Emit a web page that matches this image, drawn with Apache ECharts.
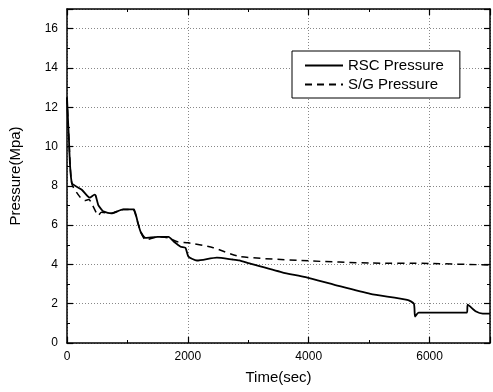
<!DOCTYPE html>
<html><head><meta charset="utf-8">
<script src="https://cdn.jsdelivr.net/npm/echarts@6/dist/echarts.min.js"></script>
<style>html,body{margin:0;padding:0;background:#fff}#c{width:493px;height:392px}</style>
</head><body><div id="c"></div>
<script>
const seriesNames = ['RSC Pressure', 'S/G Pressure'];
const rscTime = [0, 30, 80, 245, 375, 457, 475, 520, 570, 600, 735, 930, 1010, 1090, 1110, 1170, 1220, 1300, 1500, 1680, 1770, 1880, 1960, 2010, 2150, 2480, 2740, 2850, 3020, 3560, 3950, 4440, 5020, 5630, 5740, 5760, 5820, 6620, 6630, 6770, 6880, 7000];
const rscPressure = [12.5, 10.5, 8.15, 7.8, 7.4, 7.55, 7.5, 7.0, 6.8, 6.7, 6.6, 6.8, 6.8, 6.8, 6.8, 6.15, 5.65, 5.35, 5.4, 5.4, 5.15, 4.9, 4.85, 4.4, 4.2, 4.35, 4.25, 4.2, 4.05, 3.6, 3.35, 2.95, 2.5, 2.2, 2.0, 1.35, 1.55, 1.55, 1.95, 1.6, 1.5, 1.5];
const sgTime = [0, 30, 80, 210, 295, 360, 520, 570, 735, 930, 1090, 1170, 1220, 1300, 1500, 1680, 1830, 2010, 2420, 2860, 4000, 5020, 6000, 7000];
const sgPressure = [12.5, 10.5, 8.1, 7.45, 7.25, 7.3, 6.5, 6.65, 6.6, 6.8, 6.8, 6.15, 5.65, 5.25, 5.4, 5.35, 5.15, 5.1, 4.85, 4.4, 4.18, 4.07, 4.05, 3.97];
const xTicks = [0, 2000, 4000, 6000];
const yTicks = [0, 2, 4, 6, 8, 10, 12, 14, 16];

const toPairs = (t, p) => t.map((v, i) => [v, p[i]]);
const font = 'Liberation Sans, Arial, sans-serif';
const tickStyle = {show: true, inside: true, length: 6, lineStyle: {color: '#000', width: 1.2}};
const minorStyle = {show: true, splitNumber: 2, length: 3, lineStyle: {color: '#000', width: 1}};
const gridLine = {show: true, lineStyle: {color: '#888', type: [1, 2], width: 1}};
const axisLineStyle = {show: true, onZero: false, lineStyle: {color: '#000', width: 1.5}};

const chart = echarts.init(document.getElementById('c'), null, {renderer: 'canvas'});
chart.setOption({
  animation: false,
  backgroundColor: '#fff',
  grid: {left: 65, right: 0, top: 9, bottom: 49, containLabel: false},
  legend: {
    show: true, left: 292, top: 51, orient: 'vertical',
    padding: [7, 16, 6, 12], itemGap: 4, itemWidth: 38, itemHeight: 10,
    borderColor: '#000', borderWidth: 1, borderRadius: 0,
    backgroundColor: '#fff',
    itemStyle: {opacity: 0},
    textStyle: {fontFamily: font, fontSize: 15, color: '#000'},
    data: seriesNames
  },
  xAxis: [{
    type: 'value', min: 0, max: 7000, interval: 2000,
    name: 'Time(sec)', nameLocation: 'middle', nameGap: 27,
    nameTextStyle: {fontFamily: font, fontSize: 15, color: '#000'},
    axisLine: axisLineStyle, axisTick: tickStyle, minorTick: minorStyle,
    axisLabel: {fontFamily: font, fontSize: 12, color: '#000', margin: 8,
      formatter: v => xTicks.includes(v) ? String(v) : ''},
    splitLine: gridLine
  }, {
    type: 'value', min: 0, max: 7000, interval: 2000, position: 'top',
    axisLine: axisLineStyle, axisTick: tickStyle, minorTick: minorStyle,
    axisLabel: {show: false}, splitLine: {show: false}
  }],
  yAxis: [{
    type: 'value', min: 0, max: 17, interval: 2,
    name: 'Pressure(Mpa)', nameLocation: 'middle', nameGap: 44,
    nameTextStyle: {fontFamily: font, fontSize: 15, color: '#000'},
    axisLine: axisLineStyle, axisTick: tickStyle, minorTick: minorStyle,
    axisLabel: {fontFamily: font, fontSize: 12, color: '#000', margin: 9,
      formatter: v => yTicks.includes(v) ? String(v) : ''},
    splitLine: gridLine
  }, {
    type: 'value', min: 0, max: 17, interval: 2, position: 'right',
    axisLine: axisLineStyle, axisTick: tickStyle, minorTick: minorStyle,
    axisLabel: {show: false}, splitLine: {show: false}
  }],
  series: [{
    name: seriesNames[0], type: 'line', showSymbol: false, symbol: 'none',
    data: toPairs(rscTime, rscPressure), smooth: 0.2,
    lineStyle: {color: '#000', width: 1.8, type: 'solid'},
    itemStyle: {color: '#000'}, z: 3
  }, {
    name: seriesNames[1], type: 'line', showSymbol: false, symbol: 'none',
    data: toPairs(sgTime, sgPressure), smooth: 0.2,
    lineStyle: {color: '#000', width: 1.5, type: [7, 5]},
    itemStyle: {color: '#000'}, z: 2
  }]
});
</script></body></html>
